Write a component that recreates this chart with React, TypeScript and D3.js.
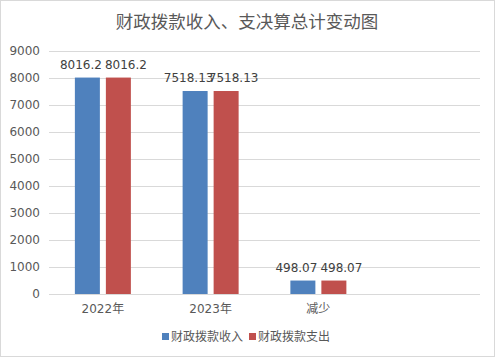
import React from 'react';
import * as d3 from 'd3';

const title = '财政拨款收入、支决算总计变动图';
const categories = ['2022年', '2023年', '减少', ''];
const seriesNames = ['财政拨款收入', '财政拨款支出'];
const income = [8016.2, 7518.13, 498.07];
const expense = [8016.2, 7518.13, 498.07];
const incomeLabels = ['8016.2', '7518.13', '498.07'];
const expenseLabels = ['8016.2', '7518.13', '498.07'];
const yTicks = [0, 1000, 2000, 3000, 4000, 5000, 6000, 7000, 8000, 9000];
const colors = ['#4f81bd', '#c0504d'];

const W = 495;
const H = 357;
const FONT = '"DejaVu Sans", "Noto Sans CJK SC", sans-serif';

export default function App() {
  const left = 49, right = 480, top = 51, bottom = 294;
  const x = d3.scaleBand<string>().domain(categories.map((c, i) => c + '#' + i)).range([left, right]);
  const y = d3.scaleLinear().domain([0, 9000]).range([bottom, top]);
  const bw = x.bandwidth();
  const barW = 25;
  const gap = 6;
  const off = (bw - 2 * barW - gap) / 2;
  const series = [income, expense];
  const labels = [incomeLabels, expenseLabels];

  return (
    <svg width={W} height={H} style={{ position: 'absolute', left: 0, top: 0, background: '#fff' }} fontFamily={FONT}>
      <rect x={0.5} y={0.5} width={W - 1} height={H - 1} fill="#fff" stroke="#d9d9d9" />
      <text x={247} y={28} textAnchor="middle" fontSize={17.5} fill="#595959">{title}</text>
      {yTicks.map(t => (
        <g key={t}>
          <line x1={left} x2={right} y1={Math.round(y(t)) + 0.5} y2={Math.round(y(t)) + 0.5} stroke="#d9d9d9" />
          <text x={40} y={y(t)} dy="0.35em" textAnchor="end" fontSize={12} fill="#595959">{t}</text>
        </g>
      ))}
      {categories.map((c, i) => {
        const bx = x(c + '#' + i)!;
        return (
          <g key={i}>
            {series.map((s, si) => {
              const v = s[i];
              if (v === undefined) return null;
              const rx = bx + off + si * (barW + gap);
              return (
                <rect key={si} x={rx} y={y(v)} width={barW} height={y(0) - y(v)} fill={colors[si]} />
              );
            })}
            {series.map((s, si) => {
              const v = s[i];
              if (v === undefined) return null;
              const cx = bx + bw / 2 + (si === 0 ? -22 : 23);
              return (
                <text key={'l' + si} x={cx} y={y(v) - 9} textAnchor="middle" fontSize={12} fill="#404040">{labels[si][i]}</text>
              );
            })}
            {c && (
              <text x={bx + bw / 2} y={313} textAnchor="middle" fontSize={12} fill="#595959">{c}</text>
            )}
          </g>
        );
      })}
      <g>
        <rect x={162} y={333} width={7} height={7} fill={colors[0]} />
        <text x={171} y={341} fontSize={12} fill="#595959">{seriesNames[0]}</text>
        <rect x={249} y={333} width={7} height={7} fill={colors[1]} />
        <text x={258} y={341} fontSize={12} fill="#595959">{seriesNames[1]}</text>
      </g>
    </svg>
  );
}
